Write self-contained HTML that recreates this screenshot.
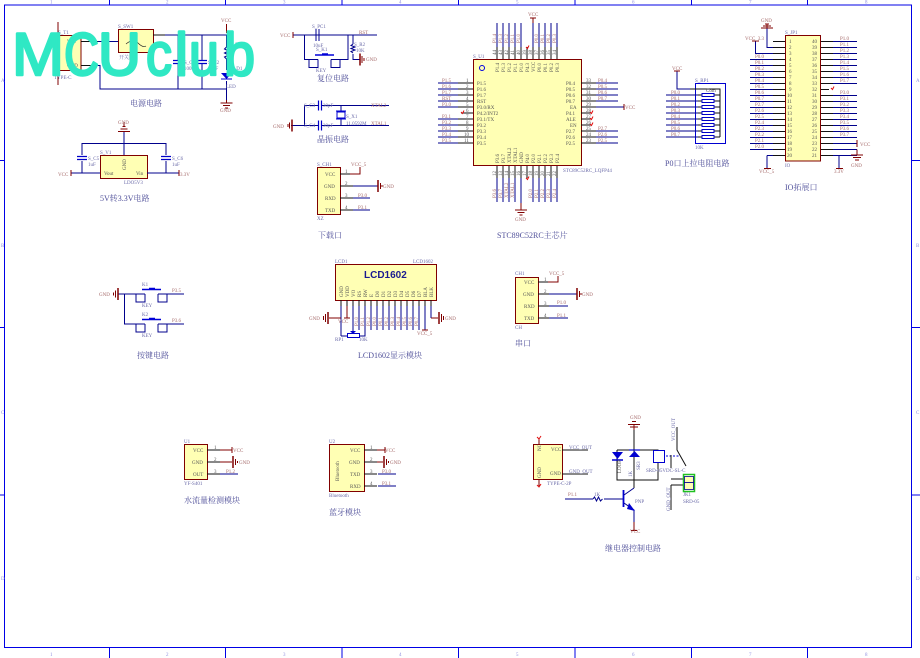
<!DOCTYPE html>
<html><head><meta charset="utf-8"><style>
html,body{margin:0;padding:0;background:#fff}
svg{display:block}
text{font-family:"Liberation Serif","Noto Serif CJK SC",serif;font-size:5px;fill:#777}
.b{fill:none;stroke:#00008c;stroke-width:1;shape-rendering:crispEdges}
.d{fill:none;stroke:#00008c;stroke-width:1}
.k{fill:none;stroke:#111;stroke-width:1;shape-rendering:crispEdges}
.m{fill:none;stroke:#800000;stroke-width:1;shape-rendering:crispEdges}
.box{fill:#ffffb4;stroke:#800000;stroke-width:1}
.t{font-size:8px;fill:#50509a}
.n{fill:#6a6aa8}
.p{fill:#a56a6a}
.w{fill:#555}
.g{fill:#9090e0}
.logo{font-family:"Liberation Sans",sans-serif;font-size:60px;fill:#2fe8c4;stroke:#2fe8c4;stroke-width:2.500;stroke-linejoin:round}
</style></head><body>
<svg width="920" height="658" viewBox="0 0 920 658" xmlns="http://www.w3.org/2000/svg">
<defs>
<g id="capv"><path d="M-5 -1.500H5M-5 1.500H5" stroke="#0000c8" stroke-width="1.200"/></g>
<g id="caph"><path d="M-1.500 -5V5M1.500 -5V5" stroke="#0000c8" stroke-width="1.200"/></g>
<g id="key"><path d="M-10 -4.500H9" stroke="#0000d8" stroke-width="1.500"/><path d="M-3 -5.500H3" stroke="#0000d8" stroke-width="1.500"/><path d="M-16 0V8H-7V0M6 0V8H15V0" class="d"/></g>
</defs>

<!-- frame -->
<path d="M4.500 5H911.500V647.500H4.500Z M109.500 0V5M225.500 0V5M342 0V5M458.500 0V5M575 0V5M691.500 0V5M807.500 0V5M109.500 647V658M225.500 647V658M342 647V658M458.500 647V658M575 647V658M691.500 647V658M807.500 647V658M0 160.500H4.500M0 327.500H4.500M0 495H4.500M911.500 160.500H920M911.500 327.500H920M911.500 495H920" fill="none" stroke="#0000e6" stroke-width="1"/>
<g>
<text class="g" x="50" y="3.500">1</text><text class="g" x="166" y="3.500">2</text><text class="g" x="283" y="3.500">3</text><text class="g" x="399" y="3.500">4</text><text class="g" x="516" y="3.500">5</text><text class="g" x="632" y="3.500">6</text><text class="g" x="749" y="3.500">7</text><text class="g" x="865" y="3.500">8</text>
<text class="g" x="50" y="656">1</text><text class="g" x="166" y="656">2</text><text class="g" x="283" y="656">3</text><text class="g" x="399" y="656">4</text><text class="g" x="516" y="656">5</text><text class="g" x="632" y="656">6</text><text class="g" x="749" y="656">7</text><text class="g" x="865" y="656">8</text>
<text class="g" x="916" y="82">A</text><text class="g" x="916" y="247">B</text><text class="g" x="916" y="414">C</text><text class="g" x="916" y="580">D</text>
<text class="g" x="1" y="82">A</text><text class="g" x="1" y="247">B</text><text class="g" x="1" y="414">C</text><text class="g" x="1" y="580">D</text>
</g>

<!-- power -->
<rect class="box" x="53" y="35.500" width="28" height="35"/>
<rect class="box" x="118.500" y="29.500" width="35" height="23"/>
<path class="k" d="M81 41.500H98M81 65.500H92M153 35H165M130 52V68"/>
<path class="b" d="M98 41.500H118M92 65.500H100V89H226.500M165 35H226.500V47M178 35V60M178 64V89M202 35V60M202 64V89M226.500 81V100"/>
<path class="m" d="M226.500 24V33M226.500 100V103M58 22V35M58 71V85"/>
<path d="M126 44Q133 38 138 43T146 46" fill="none" stroke="#222" stroke-width=".7"/>
<use href="#capv" x="178" y="62"/><use href="#capv" x="202" y="62"/>
<path d="M221 73H232L226.500 79Z" fill="#0000d0"/><path d="M221 79H232" stroke="#0000d0"/>
<path d="M226.500 47l-2 2 4 2-4 2 4 2-4 2 2 2V70" class="d"/>
<path class="m" d="M220.500 103H232.500M223 105.500H230M225 108H228"/>
<text class="n" x="118" y="28">S_SW1</text><text class="n" x="58" y="34">S_T1</text><text class="w" x="58" y="47" transform="rotate(-90 58 47)">NC</text><text class="w" x="67" y="43">VIN</text><text class="w" x="67" y="67">GND</text><text class="n" x="54" y="79">TYPE-C</text>
<text class="n" x="119" y="59">开关</text><text class="p" x="221" y="22">VCC</text><text class="p" x="220" y="112">GND</text><text class="n" x="184" y="64">S_C</text><text class="n" x="184" y="70">100n</text><text class="n" x="208" y="64">S_C2</text><text class="n" x="208" y="70">10uF</text><text class="n" x="230" y="46">S_R1</text><text class="n" x="231" y="70">S_D1</text><text class="n" x="226" y="88">LED</text>
<text class="t" x="130" y="106">电源电路</text>

<!-- LDO -->
<rect class="box" x="100.500" y="155.500" width="47" height="23"/>
<path class="b" d="M82 155V143.500H166V155M82 161V173H100M147 173H179M166 161V173M124 131V155M71 173H82"/>
<use href="#capv" x="82" y="158"/><use href="#capv" x="166" y="158"/>
<path d="M118 131.500H130M120.500 129H127.500M122.500 126.500H125.500M124 126V122" class="m"/>
<path class="m" d="M71 170V176M179 170V176"/>
<text class="p" x="118" y="124">GND</text><text class="n" x="100" y="154">S_V1</text><text class="w" x="104" y="175">Vout</text><text class="w" x="136" y="175">Vin</text><text class="w" x="126" y="170" transform="rotate(-90 126 170)">GND</text><text class="n" x="124" y="184">LDO5V3</text><text class="n" x="88" y="160">S_C5</text><text class="n" x="88" y="166">1uF</text><text class="n" x="172" y="160">S_C6</text><text class="n" x="172" y="166">1uF</text><text class="p" x="58" y="176">VCC</text><text class="p" x="180" y="176">3.3V</text>
<text class="t" x="100" y="201">5V转3.3V电路</text>

<!-- reset -->
<path class="b" d="M293 35H377M304.500 35V59.500H318M331 59.500H348V35M353 35V44M353 54V59.500H360"/>
<path class="m" d="M293 32V38"/>
<path d="M316 29V41M319 29V41" stroke="#000090" stroke-width="1"/>
<path class="d" d="M353 44l-2 1.500 4 1.500-4 1.500 4 1.500-4 1.500 2 1.500"/>
<use href="#key" x="325" y="59.500"/>
<path d="M360 53.500V65.500" stroke="#800000" stroke-width="1.500"/><path class="m" d="M362 56V63M364 58V61"/>
<text class="p" x="280" y="37">VCC</text><text class="n" x="312" y="28">S_PC1</text><text class="n" x="313" y="47">10uF</text><text class="n" x="316" y="51">S_K1</text><text class="n" x="316" y="72">KEY</text><text class="p" x="359" y="34">RST</text><text class="n" x="354" y="46">S_R2</text><text class="n" x="356" y="52">10K</text><text class="p" x="366" y="61">GND</text>
<text class="t" x="317" y="81">复位电路</text>

<!-- crystal -->
<path class="b" d="M304.500 105.500H318M322 105.500H389M291 125.500H318M322 125.500H389M304.500 105.500V125.500M341 105.500V111M341 119V125.500"/>
<use href="#caph" x="320" y="105.500"/><use href="#caph" x="320" y="125.500"/>
<rect x="337" y="112" width="8" height="6" fill="none" stroke="#0000d0"/><path d="M336 111H346M336 119H346" stroke="#0000d0"/>
<path d="M292 119.500V131.500" stroke="#800000" stroke-width="1.500"/><path d="M289.500 122.500V128.500M288 124V127" class="m"/>
<text class="p" x="273" y="128">GND</text><text class="n" x="304" y="107">S_C3</text><text class="n" x="304" y="127">S_C4</text><text class="n" x="323" y="107">30pF</text><text class="n" x="323" y="127">30pF</text><text class="n" x="346" y="118">S_X1</text><text class="n" x="346" y="125">11.0592M</text><text class="p" x="371" y="107">XTAL2</text><text class="p" x="371" y="125">XTAL1</text>
<text class="t" x="317" y="142">晶振电路</text>

<!-- download -->
<rect class="box" x="317.500" y="167.500" width="23" height="47"/>
<path class="k" d="M340 174H350M340 186H353M340 198H353M340 210H353"/>
<path class="b" d="M353 186H378M353 198H370M353 210H370"/>
<path class="m" d="M350 174H360V167"/>
<path d="M378 180V192" stroke="#800000" stroke-width="1.500"/><path d="M380.500 183V189M382 185V187" class="m"/>
<text class="n" x="317" y="166">S_CH1</text><text class="w" x="325" y="176">VCC</text><text class="w" x="324" y="188">GND</text><text class="w" x="325" y="200">RXD</text><text class="w" x="325" y="212">TXD</text>
<text class="w" x="345" y="173">1</text><text class="w" x="345" y="185">2</text><text class="w" x="345" y="197">3</text><text class="w" x="345" y="209">4</text>
<text class="p" x="351" y="166">VCC_5</text><text class="p" x="383" y="188">GND</text><text class="p" x="358" y="197">P3.0</text><text class="p" x="358" y="209">P3.1</text><text class="n" x="317" y="220">XZ</text>
<text class="t" x="318" y="238">下载口</text>

<!-- MCU -->
<rect class="box" x="473.500" y="59.500" width="108" height="106"/>
<circle cx="482" cy="68" r="2.500" fill="none" stroke="#0000e0"/>
<path class="k" d="M458 83H473M458 89H473M458 95H473M458 101H473M458 107H473M458 119H473M458 125H473M458 131H473M458 137H473M458 143H473M461 113H473M581 83H596M581 89H596M581 95H596M581 101H596M581 107H596M581 113H592M581 119H592M581 125H592M581 131H596M581 137H596M581 143H596"/>
<path class="b" d="M438 83H458M438 89H458M438 95H458M438 101H458M438 107H458M438 119H458M438 125H458M438 131H458M438 137H458M438 143H458M596 83H618M596 89H618M596 95H618M596 101H618M596 107H624M596 131H618M596 137H618M596 143H618"/>
<path class="k" d="M497 47V59M503 47V59M509 47V59M515 47V59M521 47V59M527 47V59M533 47V59M539 47V59M545 47V59M551 47V59M557 47V59M497 166V178M503 166V178M509 166V178M515 166V178M521 166V178M527 166V178M533 166V178M539 166V178M545 166V178M551 166V178M557 166V178"/>
<path class="b" d="M497 23V47M503 23V47M509 23V47M515 23V47M521 23V47M533 23V47M539 23V47M545 23V47M551 23V47M557 23V47M497 178V202M503 178V202M509 178V202M515 178V202M521 178V203M533 178V202M539 178V202M545 178V202M551 178V202M557 178V202"/>
<path class="m" d="M533 18V23M530 18H536M624 104V110M521 203V210M515 210H527M517.500 212.500H524.500M519.500 215H522.500"/>
<path d="M461 112l1.500 1.500 1.500-3M590 112l1.500 1.500 1.500-3M590 118l1.500 1.500 1.500-3M590 124l1.500 1.500 1.500-3M526 47l1.500 1.500 1.500-3M526 178l1.500 1.500 1.500-3" fill="none" stroke="#e01010" stroke-width="1"/>
<g>
<text class="w" x="477" y="85">P1.5</text><text class="w" x="477" y="91">P1.6</text><text class="w" x="477" y="97">P1.7</text><text class="w" x="477" y="103">RST</text><text class="w" x="477" y="109">P3.0/RX</text><text class="w" x="477" y="115">P4.2/INT2</text><text class="w" x="477" y="121">P3.1/TX</text><text class="w" x="477" y="127">P3.2</text><text class="w" x="477" y="133">P3.3</text><text class="w" x="477" y="139">P3.4</text><text class="w" x="477" y="145">P3.5</text>
<text class="w" x="566" y="85">P0.4</text><text class="w" x="566" y="91">P0.5</text><text class="w" x="566" y="97">P0.6</text><text class="w" x="566" y="103">P0.7</text><text class="w" x="570" y="109">EA</text><text class="w" x="566" y="115">P4.1</text><text class="w" x="566" y="121">ALE</text><text class="w" x="570" y="127">EN</text><text class="w" x="566" y="133">P2.7</text><text class="w" x="566" y="139">P2.6</text><text class="w" x="566" y="145">P2.5</text>
<text class="p" x="442" y="82">P1.5</text><text class="p" x="442" y="88">P1.6</text><text class="p" x="442" y="94">P1.7</text><text class="p" x="442" y="100">RST</text><text class="p" x="442" y="106">P3.0</text><text class="p" x="442" y="118">P3.1</text><text class="p" x="442" y="124">P3.2</text><text class="p" x="442" y="130">P3.3</text><text class="p" x="442" y="136">P3.4</text><text class="p" x="442" y="142">P3.5</text>
<text class="p" x="598" y="82">P0.4</text><text class="p" x="598" y="88">P0.5</text><text class="p" x="598" y="94">P0.6</text><text class="p" x="598" y="100">P0.7</text><text class="p" x="598" y="130">P2.7</text><text class="p" x="598" y="136">P2.6</text><text class="p" x="598" y="142">P2.5</text>
<text class="w" x="466" y="82">1</text><text class="w" x="466" y="88">2</text><text class="w" x="466" y="94">3</text><text class="w" x="466" y="100">4</text><text class="w" x="466" y="106">5</text><text class="w" x="466" y="112">6</text><text class="w" x="466" y="118">7</text><text class="w" x="466" y="124">8</text><text class="w" x="466" y="130">9</text><text class="w" x="464" y="136">10</text><text class="w" x="464" y="142">11</text>
<text class="w" x="586" y="82">33</text><text class="w" x="586" y="88">32</text><text class="w" x="586" y="94">31</text><text class="w" x="586" y="100">30</text><text class="w" x="586" y="106">29</text><text class="w" x="586" y="112">28</text><text class="w" x="586" y="118">27</text><text class="w" x="586" y="124">26</text><text class="w" x="586" y="130">25</text><text class="w" x="586" y="136">24</text><text class="w" x="586" y="142">23</text>
</g>
<g>
<text class="w" transform="translate(499 72) rotate(-90)">P1.4</text><text class="w" transform="translate(505 72) rotate(-90)">P1.3</text><text class="w" transform="translate(511 72) rotate(-90)">P1.2</text><text class="w" transform="translate(517 72) rotate(-90)">P1.1</text><text class="w" transform="translate(523 72) rotate(-90)">P1.0</text><text class="w" transform="translate(529 72) rotate(-90)">P4.3</text><text class="w" transform="translate(535 72) rotate(-90)">VCC</text><text class="w" transform="translate(541 72) rotate(-90)">P0.0</text><text class="w" transform="translate(547 72) rotate(-90)">P0.1</text><text class="w" transform="translate(553 72) rotate(-90)">P0.2</text><text class="w" transform="translate(559 72) rotate(-90)">P0.3</text>
<text class="w" transform="translate(499 163) rotate(-90)">P3.6</text><text class="w" transform="translate(505 163) rotate(-90)">P3.7</text><text class="w" transform="translate(511 163) rotate(-90)">XTAL2</text><text class="w" transform="translate(517 163) rotate(-90)">XTAL1</text><text class="w" transform="translate(523 163) rotate(-90)">GND</text><text class="w" transform="translate(529 163) rotate(-90)">P4.0</text><text class="w" transform="translate(535 163) rotate(-90)">P2.0</text><text class="w" transform="translate(541 163) rotate(-90)">P2.1</text><text class="w" transform="translate(547 163) rotate(-90)">P2.2</text><text class="w" transform="translate(553 163) rotate(-90)">P2.3</text><text class="w" transform="translate(559 163) rotate(-90)">P2.4</text>
<text class="p" transform="translate(496 43) rotate(-90)">P1.4</text><text class="p" transform="translate(502 43) rotate(-90)">P1.3</text><text class="p" transform="translate(508 43) rotate(-90)">P1.2</text><text class="p" transform="translate(514 43) rotate(-90)">P1.1</text><text class="p" transform="translate(520 43) rotate(-90)">P1.0</text><text class="p" transform="translate(538 43) rotate(-90)">P0.0</text><text class="p" transform="translate(544 43) rotate(-90)">P0.1</text><text class="p" transform="translate(550 43) rotate(-90)">P0.2</text><text class="p" transform="translate(556 43) rotate(-90)">P0.3</text>
<text class="p" transform="translate(496 198) rotate(-90)">P3.6</text><text class="p" transform="translate(502 198) rotate(-90)">P3.7</text><text class="p" transform="translate(508 198) rotate(-90)">XTAL2</text><text class="p" transform="translate(514 198) rotate(-90)">XTAL1</text><text class="p" transform="translate(532 198) rotate(-90)">P2.0</text><text class="p" transform="translate(538 198) rotate(-90)">P2.1</text><text class="p" transform="translate(544 198) rotate(-90)">P2.2</text><text class="p" transform="translate(550 198) rotate(-90)">P2.3</text><text class="p" transform="translate(556 198) rotate(-90)">P2.4</text>
<text class="w" transform="translate(496 55) rotate(-90)">44</text><text class="w" transform="translate(502 55) rotate(-90)">43</text><text class="w" transform="translate(508 55) rotate(-90)">42</text><text class="w" transform="translate(514 55) rotate(-90)">41</text><text class="w" transform="translate(520 55) rotate(-90)">40</text><text class="w" transform="translate(526 55) rotate(-90)">39</text><text class="w" transform="translate(532 55) rotate(-90)">38</text><text class="w" transform="translate(538 55) rotate(-90)">37</text><text class="w" transform="translate(544 55) rotate(-90)">36</text><text class="w" transform="translate(550 55) rotate(-90)">35</text><text class="w" transform="translate(556 55) rotate(-90)">34</text>
<text class="w" transform="translate(496 176) rotate(-90)">12</text><text class="w" transform="translate(502 176) rotate(-90)">13</text><text class="w" transform="translate(508 176) rotate(-90)">14</text><text class="w" transform="translate(514 176) rotate(-90)">15</text><text class="w" transform="translate(520 176) rotate(-90)">16</text><text class="w" transform="translate(526 176) rotate(-90)">17</text><text class="w" transform="translate(532 176) rotate(-90)">18</text><text class="w" transform="translate(538 176) rotate(-90)">19</text><text class="w" transform="translate(544 176) rotate(-90)">20</text><text class="w" transform="translate(550 176) rotate(-90)">21</text><text class="w" transform="translate(556 176) rotate(-90)">22</text>
</g>
<text class="n" x="473" y="58">S_U1</text><text class="p" x="528" y="16">VCC</text><text class="p" x="625" y="109">VCC</text><text class="p" x="515" y="221">GND</text><text class="n" x="563" y="172">STC89C52RC_LQFP44</text>
<text class="t" x="497" y="238">STC89C52RC主芯片</text>

<!-- RP1 -->
<rect x="695.500" y="83.500" width="30" height="60" fill="none" stroke="#0000d0"/>
<path class="b" d="M677 71V89H690M666 95H698M666 101H698M666 107H698M666 113H698M666 119H698M666 125H698M666 131H698M666 137H698"/>
<path class="k" d="M690 89H720V137M698 95H705M714 95H720M698 101H705M714 101H720M698 107H705M714 107H720M698 113H705M714 113H720M698 119H705M714 119H720M698 125H705M714 125H720M698 131H705M714 131H720M698 137H705M714 137H720"/>
<g fill="#fff" stroke="#0000c8"><rect x="702" y="93.500" width="12" height="3"/><rect x="702" y="99.500" width="12" height="3"/><rect x="702" y="105.500" width="12" height="3"/><rect x="702" y="111.500" width="12" height="3"/><rect x="702" y="117.500" width="12" height="3"/><rect x="702" y="123.500" width="12" height="3"/><rect x="702" y="129.500" width="12" height="3"/><rect x="702" y="135.500" width="12" height="3"/></g>
<path class="m" d="M674 71H680"/>
<text class="p" x="672" y="70">VCC</text><text class="n" x="695" y="82">S_RP1</text><text class="w" x="706" y="92">Com</text><text class="n" x="695" y="149">10K</text>
<text class="p" x="671" y="94">P0.0</text><text class="p" x="671" y="100">P0.1</text><text class="p" x="671" y="106">P0.2</text><text class="p" x="671" y="112">P0.3</text><text class="p" x="671" y="118">P0.4</text><text class="p" x="671" y="124">P0.5</text><text class="p" x="671" y="130">P0.6</text><text class="p" x="671" y="136">P0.7</text>
<text class="t" x="665" y="166">P0口上拉电阻电路</text>

<!-- IO -->
<rect class="box" x="785.500" y="35.500" width="35" height="125.500"/>
<path class="k" d="M773 41.500H785M773 47.500H785M773 53.500H785M773 59.500H785M773 65.500H785M773 71.500H785M773 77.500H785M773 83.500H785M773 89.500H785M773 95.500H785M773 101.500H785M773 107.500H785M773 113.500H785M773 119.500H785M773 125.500H785M773 131.500H785M773 137.500H785M773 143.500H785M773 149.500H785M773 155.500H785M821 41.500H833M821 47.500H833M821 53.500H833M821 59.500H833M821 65.500H833M821 71.500H833M821 77.500H833M821 83.500H833M821 89.500H829M821 95.500H833M821 101.500H833M821 107.500H833M821 113.500H833M821 119.500H833M821 125.500H833M821 131.500H833M821 137.500H833M821 143.500H833M821 149.500H833M821 155.500H833"/>
<path class="b" d="M750 59.500H773M750 65.500H773M750 71.500H773M750 77.500H773M750 83.500H773M750 89.500H773M750 95.500H773M750 101.500H773M750 107.500H773M750 113.500H773M750 119.500H773M750 125.500H773M750 131.500H773M750 137.500H773M750 143.500H773M750 149.500H773M833 41.500H857M833 47.500H857M833 53.500H857M833 59.500H857M833 65.500H857M833 71.500H857M833 77.500H857M833 83.500H857M833 95.500H857M833 101.500H857M833 107.500H857M833 113.500H857M833 119.500H857M833 125.500H857M833 131.500H857M833 137.500H857M833 143.500H857M833 149.500H857M833 155.500H857M767 28V47.500H773M755.500 41.500V53.500H773M767 155.500H773M767 155.500V168M833 155.500H839V168"/>
<path class="m" d="M752 41H759M767 24V28M761 28H773M763 26H771M765 24H769M764 168.500H771M836 168.500H843"/>
<path class="m" d="M857 149.500V155M851 155H863M853 157.500H861M855 160H859M857 140V147"/>
<path d="M831 88l1.500 1.500 1.500-3" fill="none" stroke="#e01010"/>
<text class="p" x="761" y="22">GND</text><text class="n" x="785" y="34">S_JP1</text><text class="p" x="745" y="40">VCC_3.3</text><text class="p" x="860" y="146">VCC</text><text class="p" x="851" y="167">GND</text><text class="p" x="759" y="173">VCC_5</text><text class="p" x="834" y="173">3.3V</text><text class="n" x="785" y="167">IO</text>
<g>
<text class="w" x="789" y="43">1</text><text class="w" x="789" y="49">2</text><text class="w" x="789" y="55">3</text><text class="w" x="789" y="61">4</text><text class="w" x="789" y="67">5</text><text class="w" x="789" y="73">6</text><text class="w" x="789" y="79">7</text><text class="w" x="789" y="85">8</text><text class="w" x="789" y="91">9</text><text class="w" x="787" y="97">10</text><text class="w" x="787" y="103">11</text><text class="w" x="787" y="109">12</text><text class="w" x="787" y="115">13</text><text class="w" x="787" y="121">14</text><text class="w" x="787" y="127">15</text><text class="w" x="787" y="133">16</text><text class="w" x="787" y="139">17</text><text class="w" x="787" y="145">18</text><text class="w" x="787" y="151">19</text><text class="w" x="787" y="157">20</text>
<text class="w" x="812" y="43">40</text><text class="w" x="812" y="49">39</text><text class="w" x="812" y="55">38</text><text class="w" x="812" y="61">37</text><text class="w" x="812" y="67">36</text><text class="w" x="812" y="73">35</text><text class="w" x="812" y="79">34</text><text class="w" x="812" y="85">33</text><text class="w" x="812" y="91">32</text><text class="w" x="812" y="97">31</text><text class="w" x="812" y="103">30</text><text class="w" x="812" y="109">29</text><text class="w" x="812" y="115">28</text><text class="w" x="812" y="121">27</text><text class="w" x="812" y="127">26</text><text class="w" x="812" y="133">25</text><text class="w" x="812" y="139">24</text><text class="w" x="812" y="145">23</text><text class="w" x="812" y="151">22</text><text class="w" x="812" y="157">21</text>
</g>
<text class="p" x="755" y="58">P0.0</text><text class="p" x="755" y="64">P0.1</text><text class="p" x="755" y="70">P0.2</text><text class="p" x="755" y="76">P0.3</text><text class="p" x="755" y="82">P0.4</text><text class="p" x="755" y="88">P0.5</text><text class="p" x="755" y="94">P0.6</text><text class="p" x="755" y="100">P0.7</text><text class="p" x="755" y="106">P2.7</text><text class="p" x="755" y="112">P2.6</text><text class="p" x="755" y="118">P2.5</text><text class="p" x="755" y="124">P2.4</text><text class="p" x="755" y="130">P2.3</text><text class="p" x="755" y="136">P2.2</text><text class="p" x="755" y="142">P2.1</text><text class="p" x="755" y="148">P2.0</text>
<text class="p" x="840" y="40">P1.0</text><text class="p" x="840" y="46">P1.1</text><text class="p" x="840" y="52">P1.2</text><text class="p" x="840" y="58">P1.3</text><text class="p" x="840" y="64">P1.4</text><text class="p" x="840" y="70">P1.5</text><text class="p" x="840" y="76">P1.6</text><text class="p" x="840" y="82">P1.7</text><text class="p" x="840" y="94">P3.0</text><text class="p" x="840" y="100">P3.1</text><text class="p" x="840" y="106">P3.2</text><text class="p" x="840" y="112">P3.3</text><text class="p" x="840" y="118">P3.4</text><text class="p" x="840" y="124">P3.5</text><text class="p" x="840" y="130">P3.6</text><text class="p" x="840" y="136">P3.7</text>
<text class="t" x="785" y="190">IO拓展口</text>

<!-- LCD -->
<rect class="box" x="335.500" y="264.500" width="101" height="36"/>
<text x="364" y="278" style="font-family:'Liberation Sans',sans-serif;font-size:10px;font-weight:bold;fill:#1a1a90">LCD1602</text>
<path class="k" d="M341 300V306M347 300V306M353 300V306M359 300V306M365 300V306M371 300V306M377 300V306M383 300V306M389 300V306M395 300V306M401 300V306M407 300V306M413 300V306M419 300V306M425 300V306M431 300V306"/>
<path class="b" d="M341 306V336M353 306V332M359 306V330M365 306V330M371 306V330M377 306V330M383 306V330M389 306V330M395 306V330M401 306V330M407 306V330M413 306V330M419 306V330M425 306V330M431 306V318M341 336H347M360 336H365V330"/>
<path class="m" d="M329 318H341M347 306V318M344 318H350M422 330H428M431 318H438"/>
<path d="M328 312V324" stroke="#800000" stroke-width="1.500"/><path d="M325.500 314V322M323.500 316V320" class="m"/>
<path d="M439 312V324" stroke="#800000" stroke-width="1.500"/><path d="M441.500 314V322M443.500 316V320" class="m"/>
<rect x="347.500" y="333.500" width="12" height="4" fill="#fff" stroke="#0000c8"/>
<path d="M350 331H356L353 334Z" fill="#0000d0"/>
<text class="p" x="309" y="320">GND</text><text class="p" x="445" y="320">GND</text><text class="p" x="338" y="323">VCC</text><text class="p" x="417" y="335">VCC_5</text><text class="n" x="335" y="263">LCD1</text><text class="n" x="413" y="263">LCD1602</text><text class="n" x="335" y="341">RP1</text><text class="n" x="359" y="341">10K</text>
<g><text class="w" transform="translate(343 297) rotate(-90)">GND</text><text class="w" transform="translate(349 297) rotate(-90)">VDD</text><text class="w" transform="translate(355 297) rotate(-90)">VO</text><text class="w" transform="translate(361 297) rotate(-90)">RS</text><text class="w" transform="translate(367 297) rotate(-90)">RW</text><text class="w" transform="translate(373 297) rotate(-90)">E</text><text class="w" transform="translate(379 297) rotate(-90)">D0</text><text class="w" transform="translate(385 297) rotate(-90)">D1</text><text class="w" transform="translate(391 297) rotate(-90)">D2</text><text class="w" transform="translate(397 297) rotate(-90)">D3</text><text class="w" transform="translate(403 297) rotate(-90)">D4</text><text class="w" transform="translate(409 297) rotate(-90)">D5</text><text class="w" transform="translate(415 297) rotate(-90)">D6</text><text class="w" transform="translate(421 297) rotate(-90)">D7</text><text class="w" transform="translate(427 297) rotate(-90)">BLA</text><text class="w" transform="translate(433 297) rotate(-90)">BLK</text></g>
<g><text class="p" transform="translate(358 326) rotate(-90)">P1.0</text><text class="p" transform="translate(364 326) rotate(-90)">P1.1</text><text class="p" transform="translate(370 326) rotate(-90)">P1.2</text><text class="p" transform="translate(376 326) rotate(-90)">P0.0</text><text class="p" transform="translate(382 326) rotate(-90)">P0.1</text><text class="p" transform="translate(388 326) rotate(-90)">P0.2</text><text class="p" transform="translate(394 326) rotate(-90)">P0.3</text><text class="p" transform="translate(400 326) rotate(-90)">P0.4</text><text class="p" transform="translate(406 326) rotate(-90)">P0.5</text><text class="p" transform="translate(412 326) rotate(-90)">P0.6</text><text class="p" transform="translate(418 326) rotate(-90)">P0.7</text></g>
<text class="t" x="358" y="358">LCD1602显示模块</text>

<!-- keys -->
<path class="b" d="M118 294H145M158 294H184M124.500 294V324H145M158 324H184"/>
<use href="#key" x="152" y="294"/><use href="#key" x="152" y="324"/>
<path d="M118 288V300" stroke="#800000" stroke-width="1.500"/><path d="M115.500 290.500V297.500M113.500 292.500V295.500" class="m"/>
<text class="p" x="99" y="296">GND</text><text class="n" x="142" y="286">K1</text><text class="n" x="142" y="316">K2</text><text class="n" x="142" y="337">KEY</text><text class="n" x="142" y="307">KEY</text><text class="p" x="172" y="292">P3.5</text><text class="p" x="172" y="322">P3.6</text>
<text class="t" x="137" y="358">按键电路</text>

<!-- CH -->
<rect class="box" x="515.500" y="277.500" width="23" height="46"/>
<path class="k" d="M538 282H548M538 294H549M538 306H549M538 318H549"/>
<path class="b" d="M549 294H577M549 306H568M549 318H568"/>
<path class="m" d="M548 282H558V276"/>
<path d="M577 288V300" stroke="#800000" stroke-width="1.500"/><path d="M579.500 291V297M581 293V295" class="m"/>
<text class="n" x="515" y="275">CH1</text><text class="w" x="524" y="284">VCC</text><text class="w" x="523" y="296">GND</text><text class="w" x="524" y="308">RXD</text><text class="w" x="524" y="320">TXD</text><text class="p" x="549" y="275">VCC_5</text><text class="p" x="582" y="296">GND</text><text class="p" x="557" y="304">P1.0</text><text class="p" x="557" y="317">P1.1</text><text class="n" x="515" y="329">CH</text>
<text class="w" x="544" y="281">1</text><text class="w" x="544" y="293">2</text><text class="w" x="544" y="305">3</text><text class="w" x="544" y="317">4</text>
<text class="t" x="515" y="346">串口</text>

<!-- U1 -->
<rect class="box" x="184.500" y="444.500" width="23" height="35"/>
<path class="k" d="M207 450H220M207 462H220M207 474H220"/>
<path class="b" d="M220 474H238"/>
<path class="m" d="M220 450H232M232 447V453M220 462H232"/>
<path d="M233 456V468" stroke="#800000" stroke-width="1.500"/><path d="M235.500 459V465M237.500 461V463" class="m"/>
<text class="n" x="184" y="443">U1</text><text class="w" x="193" y="452">VCC</text><text class="w" x="192" y="464">GND</text><text class="w" x="193" y="476">OUT</text><text class="p" x="233" y="452">VCC</text><text class="p" x="239" y="464">GND</text><text class="p" x="226" y="473">P1.2</text><text class="n" x="184" y="485">YF-S401</text>
<text class="w" x="214" y="449">1</text><text class="w" x="214" y="461">2</text><text class="w" x="214" y="473">3</text>
<text class="t" x="184" y="503">水流量检测模块</text>

<!-- U2 -->
<rect class="box" x="329.500" y="444.500" width="35" height="47"/>
<path class="k" d="M364 450H377M364 462H377M364 474H377M364 486H377"/>
<path class="b" d="M378 474H396M378 486H396"/>
<path class="m" d="M377 450H385M385 447V453M377 462H383"/>
<path d="M384 456V468" stroke="#800000" stroke-width="1.500"/><path d="M386.500 459V465M388.500 461V463" class="m"/>
<text class="n" x="329" y="443">U2</text><text class="w" x="350" y="452">VCC</text><text class="w" x="349" y="464">GND</text><text class="w" x="350" y="476">TXD</text><text class="w" x="350" y="488">RXD</text><text class="w" transform="translate(339 481) rotate(-90)">Bluetooth</text><text class="p" x="385" y="452">VCC</text><text class="p" x="390" y="464">GND</text><text class="p" x="382" y="473">P3.0</text><text class="p" x="382" y="485">P3.1</text><text class="n" x="329" y="497">Bluetooth</text>
<text class="w" x="370" y="449">1</text><text class="w" x="370" y="461">2</text><text class="w" x="370" y="473">3</text><text class="w" x="370" y="485">4</text>
<text class="t" x="329" y="515">蓝牙模块</text>

<!-- relay -->
<rect class="box" x="533.500" y="444.500" width="29" height="35"/>
<path class="k" d="M562 450H588M562 474H588"/>
<path class="m" d="M539 438V444M539 480V486"/>
<path d="M537 437l2 2 2-3M537 485l2 2 2-3" fill="none" stroke="#e01010"/>
<text class="w" transform="translate(541 451) rotate(-90)">NC</text><text class="w" transform="translate(541 478) rotate(-90)">GND</text><text class="w" x="551" y="451">VCC</text><text class="w" x="550" y="475">GND</text><text class="n" x="569" y="449">VCC_OUT</text><text class="n" x="569" y="473">GND_OUT</text><text class="n" x="547" y="485">TYPE-C-2P</text>
<path class="m" d="M634 424V430M628 424.500H640M630 427H638M632 421.500H636"/>
<path class="k" d="M634 430V450M617 450H658V480H617V450M634 450V480M634 480V488"/>
<path d="M612 452H623L617.500 459Z" fill="#0000d0"/><path d="M612 460H623" stroke="#0000d0" stroke-width="1.500"/>
<path d="M629 457H640L634.500 451Z" fill="#0000d0"/><path d="M629 450H640" stroke="#0000d0" stroke-width="1.200"/>
<rect x="653.500" y="450.500" width="11" height="12" fill="#fff" stroke="#0000d0"/>
<path d="M666 456H680" stroke="#0000d0" stroke-dasharray="2 1.500"/>
<path class="d" d="M677 427V450L686 466" style="stroke:#111"/>
<path class="k" d="M671 455V468M671 485V510M671 479H684M671 485H684"/>
<rect x="683.500" y="474.500" width="11" height="17" fill="#fff" stroke="#20c020" stroke-width="1.500"/>
<rect x="684.500" y="476.500" width="9" height="6" fill="#ffffb4" stroke="#000090" stroke-width=".8"/>
<rect x="684.500" y="482.500" width="9" height="7" fill="#ffffb4" stroke="#000090" stroke-width=".8"/>
<path class="b" d="M565 499H593M604 499H623"/>
<path class="d" d="M593 499l1.500-2 2 4 2-4 2 4 2-2"/>
<path d="M623.500 490V507" stroke="#0000d0" stroke-width="1.800"/>
<path class="d" d="M624 495L634 488M624 503L634 510V522"/>
<path d="M629 503L635 511L627 509Z" fill="#0000d0"/>
<path class="m" d="M634 522V530M631 530.500H637"/>
<text class="p" x="568" y="496">P1.1</text><text class="n" x="594" y="496">1K</text><text class="n" x="635" y="503">PNP</text><text class="p" x="630" y="533">VCC</text><text class="p" x="630" y="419">GND</text>
<text class="w" transform="translate(621 473) rotate(-90)">LOOP</text><text class="n" transform="translate(640 470) rotate(-90)">SR3</text><text class="n" transform="translate(632 477) rotate(-90)">1K</text><text class="n" x="646" y="472">SRD-05VDC-SL-C</text><text class="n" transform="translate(675 441) rotate(-90)">VCC_OUT</text><text class="n" transform="translate(670 511) rotate(-90)">GND_OUT</text><text class="n" x="683" y="496">JK1</text><text class="n" x="683" y="503">SRD-05</text>
<text class="t" x="605" y="551">继电器控制电路</text>

<!-- logo -->
<g>
<text class="logo" x="12" y="75" textLength="52" lengthAdjust="spacingAndGlyphs">M</text>
<text class="logo" x="64" y="75" textLength="35" lengthAdjust="spacingAndGlyphs">C</text>
<text class="logo" x="98" y="75" textLength="43" lengthAdjust="spacingAndGlyphs">U</text>
<text class="logo" x="146" y="75" textLength="26" lengthAdjust="spacingAndGlyphs">c</text>
<text class="logo" x="175" y="75" textLength="13" lengthAdjust="spacingAndGlyphs">l</text>
<text class="logo" x="189" y="75" textLength="30" lengthAdjust="spacingAndGlyphs">u</text>
<text class="logo" x="224" y="75" textLength="31" lengthAdjust="spacingAndGlyphs">b</text>
</g>
</svg>
</body></html>
